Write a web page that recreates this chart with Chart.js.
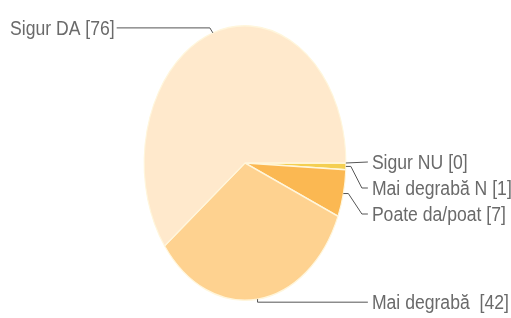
<!DOCTYPE html>
<html>
<head>
<meta charset="utf-8">
<script src="https://cdn.jsdelivr.net/npm/chart.js@4.4.0/dist/chart.umd.min.js"></script>
<style>
  html, body { margin: 0; padding: 0; background: #fff; }
  #wrap { width: 511px; height: 318px; }
</style>
</head>
<body>
<div id="wrap"><canvas id="pie-chart" width="511" height="318"></canvas></div>
<script>
// answers, in drawing order clockwise from 3 o'clock
const labels = ['Sigur NU', 'Mai degrabă N', 'Poate da/poat', 'Mai degrabă ', 'Sigur DA'];
const counts = [0, 1, 7, 42, 76];
const colors = ['#f3e07a', '#f4cf52', '#fbb852', '#fed290', '#ffe9cc'];

const squash = 0.735; // the pie is drawn as an ellipse
const textSquash = 0.88; // labels look narrow too

const ctx = document.getElementById('pie-chart').getContext('2d');

const ellipsePlugin = {
    id: 'ellipse',
    beforeDatasetsDraw: function(chart) {
        const arc = chart.getDatasetMeta(0).data[0];
        chart.ctx.save();
        chart.ctx.translate(arc.x, 0);
        chart.ctx.scale(squash, 1);
        chart.ctx.translate(-arc.x, 0);
    },
    afterDatasetsDraw: function(chart) {
        chart.ctx.restore();
    }
};

// leader lines and labels, placed from each arc's middle angle
const calloutPlugin = {
    id: 'callouts',
    afterDraw: function(chart) {
        const c = chart.ctx;
        const arcs = chart.getDatasetMeta(0).data;
        c.save();
        c.font = '20px "Liberation Sans", Arial, sans-serif';
        c.textBaseline = 'middle';
        c.fillStyle = '#6a6a6a';
        c.strokeStyle = '#555';
        c.lineWidth = 1;

        const edge = (arc) => {
            const a = (arc.startAngle + arc.endAngle) / 2;
            return {
                x: arc.x + Math.cos(a) * arc.outerRadius * squash,
                y: arc.y + Math.sin(a) * arc.outerRadius
            };
        };
        const text = (t, x, y) => {
            c.save();
            c.translate(x, y);
            c.scale(textSquash, 1);
            c.fillText(t, 0, 0);
            c.restore();
        };

        const rightX = arcs[0].x + arcs[0].outerRadius * squash;
        const textX = rightX + 26;

        // small slices on the right stacked
        const rightRows = [162, 188, 214];
        [0, 1, 2].forEach((i, k) => {
            const p = edge(arcs[i]);
            const y = rightRows[k];
            c.beginPath();
            c.moveTo(p.x, p.y);
            if (k === 0) {
                c.lineTo(textX - 4, y);
            } else {
                c.lineTo(p.x + 5, p.y);
                c.lineTo(textX - 10, y);
                c.lineTo(textX - 4, y);
            }
            c.stroke();
            text(`${labels[i]} [${counts[i]}]`, textX, y + 1);
        });

        // bottom slice
        let p = edge(arcs[3]);
        let y = p.y + 3;
        c.beginPath();
        c.moveTo(p.x, p.y);
        c.lineTo(p.x, y);
        c.lineTo(textX - 4, y);
        c.stroke();
        text(`${labels[3]} [${counts[3]}]`, textX, y + 1);

        // top slice to the left
        p = edge(arcs[4]);
        y = p.y - 5;
        const txt = `${labels[4]} [${counts[4]}]`;
        const leftX = 10;
        const w = c.measureText(txt).width * textSquash;
        c.beginPath();
        c.moveTo(p.x, p.y);
        c.lineTo(p.x - 3, y);
        c.lineTo(leftX + w + 2, y);
        c.stroke();
        text(txt, leftX, y + 2);
        c.restore();
    }
};

const pieChart = new Chart(ctx, {
    type: 'pie',
    data: {
        labels: labels,
        datasets: [{
            data: counts,
            backgroundColor: colors,
            borderColor: '#fff6dc',
            borderWidth: 1.5,
        }],
    },
    options: {
        responsive: false,
        animation: false,
        rotation: 90,
        layout: {
            padding: { top: 25, bottom: 17, left: 0, right: 21 },
        },
        plugins: {
            legend: { display: false },
            tooltip: { enabled: false },
        },
    },
    plugins: [ellipsePlugin, calloutPlugin],
});
</script>
</body>
</html>
